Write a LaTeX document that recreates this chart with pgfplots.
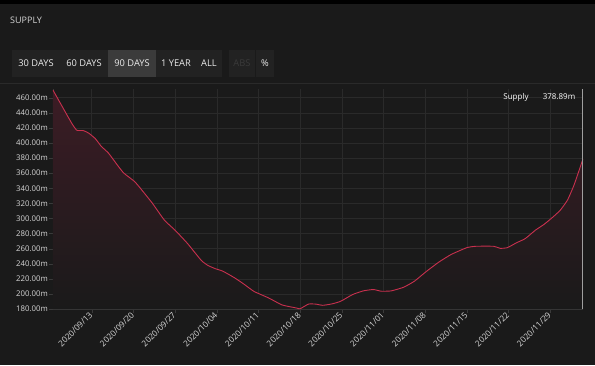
\documentclass[border=0pt]{standalone}
\usepackage{fontspec}
\setmainfont{Open Sans}
\usepackage{pgfplots}
\pgfplotsset{compat=1.18}
\definecolor{bg}{HTML}{1A1A1A}
\definecolor{barbg}{HTML}{222222}
\definecolor{hl}{HTML}{3B3B3B}
\definecolor{gridc}{HTML}{2A2A2A}
\definecolor{axc}{HTML}{3A3A3A}
\definecolor{txt}{HTML}{D6D6D6}
\definecolor{linec}{HTML}{C8304E}
\definecolor{fillc}{HTML}{3C1C25}
\begin{document}
\begin{tikzpicture}[x=1pt,y=1pt]
\useasboundingbox (0,0) rectangle (595,365);
\fill[bg] (0,0) rectangle (595,365);
\fill[black] (0,361) rectangle (595,365);
\draw[gridc,line width=0.6pt] (0,282) -- (595,282);
% title
\node[anchor=west,text=txt,font=\fontsize{9}{10}\selectfont,inner sep=0] at (10,345) {SUPPLY};
% buttons
\fill[barbg] (12,288) rectangle (222,315);
\fill[hl] (108,288) rectangle (156,315);
\fill[barbg] (229,288) rectangle (255,315);
\fill[barbg] (256,288) rectangle (274,315);
\begin{scope}[every node/.style={text=white!92!black,font=\fontsize{9.3}{10}\selectfont,inner sep=0}]
\node at (36,301.5) {30 DAYS};
\node at (84,301.5) {60 DAYS};
\node at (132,301.5) {90 DAYS};
\node at (176,301.5) {1 YEAR};
\node at (209,301.5) {ALL};
\node[text=axc] at (242,301.5) {ABS};
\node at (265,301.5) {\%};
\end{scope}
\begin{axis}[
  at={(53pt,56pt)}, anchor=south west,
  width=530pt, height=220pt, scale only axis,
  xmin=-6.5, xmax=82.5, ymin=180, ymax=471.5,
  axis line style={axc},
  tick style={axc},
  major tick length=4pt,
  tick align=outside,
  axis x line*=bottom, axis y line*=left,
  grid=major, grid style={gridc,line width=0.5pt},
  xtick={0,7,14,21,28,35,42,49,56,63,70,77},
  xticklabels={2020/09/13,2020/09/20,2020/09/27,2020/10/04,2020/10/11,2020/10/18,2020/10/25,2020/11/01,2020/11/08,2020/11/15,2020/11/22,2020/11/29},
  xticklabel style={rotate=45,anchor=east,text=txt,font=\fontsize{8.3}{9}\selectfont,inner sep=1pt},
  ytick={180,200,...,460},
  yticklabels={180.00m,200.00m,220.00m,240.00m,260.00m,280.00m,300.00m,320.00m,340.00m,360.00m,380.00m,400.00m,420.00m,440.00m,460.00m},
  yticklabel style={text=txt,font=\fontsize{7.8}{9}\selectfont,inner sep=1pt},
  clip=true,
]
\addplot[draw=none, shade, top color=fillc, bottom color=bg, forget plot] coordinates {
(-6.5,470) (-3.4,426.7) (-2.5,416.9) (-1.4,416.4) (-0.5,413) (0.6,405.8) (1.6,395.6) (2.8,386.7) (4.4,369.8) (5.4,360) (7.2,348.9) (8.4,337.8) (10.2,320) (12.2,297.8) (14.0,284.4) (16.1,266.7) (18.4,244.4) (19.5,237.8) (20.8,233.3) (22.0,230.2) (24.0,221.3) (25.5,213.3) (27.3,203.1) (29.7,194.7) (32.0,185.3) (34.4,181.3) (35,180.3) (36.4,186.5) (37.6,186.5) (38.8,184.9) (40.3,186.7) (41.8,190.2) (43.8,199.1) (45.6,204) (47.3,205.8) (48.6,203.6) (50.3,204) (52.4,208.9) (54.2,216.9) (56.2,229.8) (58.3,242.2) (60.4,252.4) (63.0,261.3) (64.5,263.1) (67.5,263.1) (68.6,260.4) (69.8,261.3) (71.3,267.6) (72.8,273.3) (74.5,284.4) (76.0,292.4) (77.5,302.2) (78.7,311.1) (79.9,324.4) (81.0,344.4) (82.5,378.89)
} \closedcycle;
\addplot[linec, line width=0.9pt, smooth, tension=0.3] coordinates {
(-6.5,470) (-3.4,426.7) (-2.5,416.9) (-1.4,416.4) (-0.5,413) (0.6,405.8) (1.6,395.6) (2.8,386.7) (4.4,369.8) (5.4,360) (7.2,348.9) (8.4,337.8) (10.2,320) (12.2,297.8) (14.0,284.4) (16.1,266.7) (18.4,244.4) (19.5,237.8) (20.8,233.3) (22.0,230.2) (24.0,221.3) (25.5,213.3) (27.3,203.1) (29.7,194.7) (32.0,185.3) (34.4,181.3) (35,180.3) (36.4,186.5) (37.6,186.5) (38.8,184.9) (40.3,186.7) (41.8,190.2) (43.8,199.1) (45.6,204) (47.3,205.8) (48.6,203.6) (50.3,204) (52.4,208.9) (54.2,216.9) (56.2,229.8) (58.3,242.2) (60.4,252.4) (63.0,261.3) (64.5,263.1) (67.5,263.1) (68.6,260.4) (69.8,261.3) (71.3,267.6) (72.8,273.3) (74.5,284.4) (76.0,292.4) (77.5,302.2) (78.7,311.1) (79.9,324.4) (81.0,344.4) (82.5,378.89)
};
\end{axis}
\draw[gray!75, line width=0.9pt] (582.5,56) -- (582.5,276);
\node[text=white,font=\fontsize{8}{9}\selectfont,inner sep=0] at (516,268) {Supply};
\node[text=white,font=\fontsize{8}{9}\selectfont,inner sep=0] at (559,268) {378.89m};
\end{tikzpicture}
\end{document}
